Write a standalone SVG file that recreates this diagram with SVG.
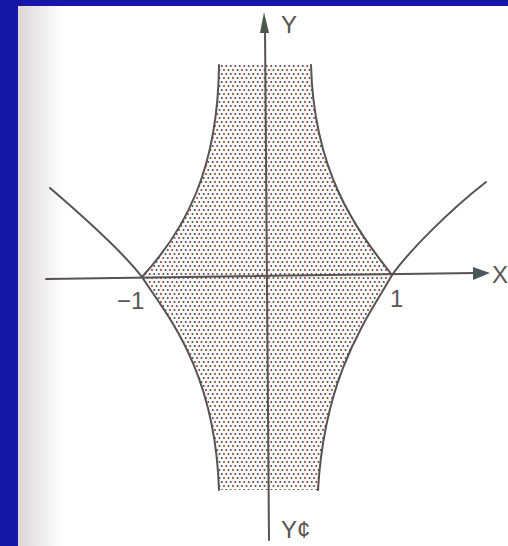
<svg xmlns="http://www.w3.org/2000/svg" width="508" height="546" viewBox="0 0 508 546">
<style>
.ln{fill:none;stroke:#5a5252;stroke-width:2;stroke-linecap:round}
.lb{font-family:"Liberation Sans",Arial,sans-serif;font-size:24px;fill:#5a5555}
</style>
<defs>
<pattern id="dots" width="9" height="8" patternUnits="userSpaceOnUse">
<rect width="9" height="8" fill="#fdfbfa"/>
<circle cx="1.25" cy="2" r="1" fill="#7a3a3a"/>
<circle cx="5.75" cy="2" r="1" fill="#3a4a6a"/>
<circle cx="3.5" cy="6" r="1" fill="#3a5a3a"/>
<circle cx="8" cy="6" r="1" fill="#903535"/>
</pattern>
<linearGradient id="fade" x1="0" x2="1" y1="0" y2="0">
<stop offset="0" stop-color="#dcd6d6"/>
<stop offset="1" stop-color="#ffffff"/>
</linearGradient>
</defs>
<rect width="508" height="546" fill="#ffffff"/>
<rect x="18" y="6" width="45" height="540" fill="url(#fade)"/>
<rect x="0" y="0" width="508" height="6" fill="#1616a8"/>
<rect x="0" y="0" width="18" height="546" fill="#1616a8"/>
<g id="region">
<path d="M219,65 L311,65 C314,172 355,228 392,275 C370,315 325,370 318,490 L219,490 C215,368 165,313 142,277 C185,230 218,170 219,65 Z" fill="url(#dots)"/>
</g>
<g id="connectors">
<path class="ln" d="M311,65 C314,172 355,228 392,275"/>
<path class="ln" d="M392,275 C370,315 325,370 318,490"/>
<path class="ln" d="M219,490 C215,368 165,313 142,277"/>
<path class="ln" d="M142,277 C185,230 218,170 219,65"/>
<path class="ln" d="M392,275 C410,250 450,210 486,182"/>
<path class="ln" d="M142,277 C125,255 85,218 50,188"/>
<path class="ln" d="M269,540 L265,28"/>
<path d="M264,12 L269,33 L260,33 Z" fill="#4a5a4a"/>
<path class="ln" d="M46,279 L476,273"/>
<path d="M490,273 L473,267 L473,280 Z" fill="#4a5a5a"/>
</g>
<g id="labels">
<text class="lb" x="281" y="33">Y</text>
<text class="lb" x="492" y="283">X</text>
<text class="lb" x="117" y="309">−1</text>
<text class="lb" x="390" y="307">1</text>
<text class="lb" x="281" y="538">Y¢</text>
</g>
</svg>
